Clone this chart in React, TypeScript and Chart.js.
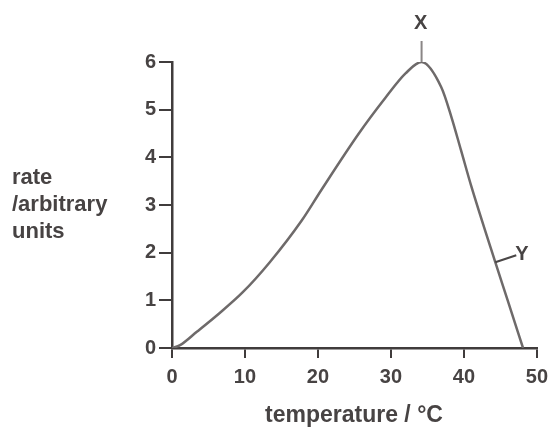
import React, { useEffect, useRef } from "react";
import { Chart, registerables } from "chart.js";

Chart.register(...registerables);

const temperatures = [0, 1.1, 3.4, 6.5, 9.7, 13.4, 17.8, 20.4, 25.6, 29.3, 32, 34.2, 36.9, 38.3, 39.6, 41.0, 44.3, 46.0, 48.1];
const rates = [0, 0.06, 0.34, 0.73, 1.17, 1.8, 2.68, 3.3, 4.5, 5.26, 5.76, 6.0, 5.47, 4.84, 4.15, 3.4, 1.8, 1.0, 0];
const xTicks = [0, 10, 20, 30, 40, 50];
const yTicks = [0, 1, 2, 3, 4, 5, 6];
const yTitleLines = ["rate", "/arbitrary", "units"];
const xTitle = "temperature / °C";
const markerX = { label: "X", temp: 34.2, rate: 6.0 };
const markerY = { label: "Y", temp: 44.3, rate: 1.8 };

const TEXT = "#474343";
const AXIS = "#403c3c";
const FONT = "'Liberation Sans', Arial, sans-serif";

export default function App() {
  const ref = useRef<HTMLCanvasElement | null>(null);
  useEffect(() => {
    if (!ref.current) return;
    const annot = {
      id: "annot",
      afterDraw(chart: any) {
        const ctx = chart.ctx;
        const xs = chart.scales.x;
        const ys = chart.scales.y;
        ctx.save();
        ctx.fillStyle = TEXT;
        ctx.textBaseline = "alphabetic";
        // y title
        ctx.font = `bold 22px ${FONT}`;
        ctx.textAlign = "left";
        yTitleLines.forEach((l, i) => ctx.fillText(l, 12, 184 + i * 27));
        // x title
        ctx.font = `bold 23px ${FONT}`;
        ctx.textAlign = "center";
        ctx.fillText(xTitle, 354, 422);
        // X marker
        const px = xs.getPixelForValue(markerX.temp);
        const py = ys.getPixelForValue(markerX.rate);
        ctx.strokeStyle = "#8a8686";
        ctx.lineWidth = 2;
        ctx.beginPath();
        ctx.moveTo(px, py);
        ctx.lineTo(px, py - 21);
        ctx.stroke();
        ctx.textBaseline = "middle";
        ctx.font = `bold 20px ${FONT}`;
        ctx.fillText(markerX.label, px - 1, py - 39);
        // Y marker
        const qx = xs.getPixelForValue(markerY.temp);
        const qy = ys.getPixelForValue(markerY.rate);
        ctx.strokeStyle = "#4a4646";
        ctx.beginPath();
        ctx.moveTo(qx, qy);
        ctx.lineTo(qx + 21, qy - 7);
        ctx.stroke();
        ctx.textAlign = "left";
        ctx.fillText(markerY.label, qx + 20, qy - 8);
        ctx.restore();
      },
    };
    const chart = new Chart(ref.current, {
      type: "scatter",
      data: {
        datasets: [
          {
            data: temperatures.map((t, i) => ({ x: t, y: rates[i] })),
            showLine: true,
            borderColor: "#6e6a6a",
            borderWidth: 2.5,
            pointRadius: 0,
            cubicInterpolationMode: "monotone",
          },
        ],
      },
      options: {
        animation: false,
        responsive: false,
        maintainAspectRatio: false,
        layout: { padding: { left: 0, right: 16, top: 62, bottom: 0 } },
        plugins: { legend: { display: false }, tooltip: { enabled: false } },
        scales: {
          x: {
            type: "linear",
            min: 0,
            max: 50,
            afterBuildTicks: (s: any) => {
              s.ticks = xTicks.map((v) => ({ value: v }));
            },
            afterFit: (s: any) => {
              s.height = 81;
            },
            grid: { display: true, drawOnChartArea: false, drawTicks: true, tickLength: 10, color: AXIS, lineWidth: 2 },
            border: { display: true, color: AXIS, width: 2.5 },
            ticks: { color: TEXT, font: { family: FONT, size: 20, weight: "bold" }, padding: 7, maxRotation: 0 },
          },
          y: {
            type: "linear",
            min: 0,
            max: 6,
            afterBuildTicks: (s: any) => {
              s.ticks = yTicks.map((v) => ({ value: v }));
            },
            afterFit: (s: any) => {
              s.width = 172;
            },
            grid: { display: true, drawOnChartArea: false, drawTicks: true, tickLength: 13, color: AXIS, lineWidth: 2 },
            border: { display: true, color: AXIS, width: 2.5 },
            ticks: { color: TEXT, font: { family: FONT, size: 20, weight: "bold" }, padding: 3 },
          },
        },
      },
      plugins: [annot],
    } as any);
    return () => chart.destroy();
  }, []);
  return (
    <canvas
      ref={ref}
      width={555}
      height={429}
      style={{ position: "absolute", left: 0, top: 0, width: 555, height: 429, background: "#fff" }}
    />
  );
}
